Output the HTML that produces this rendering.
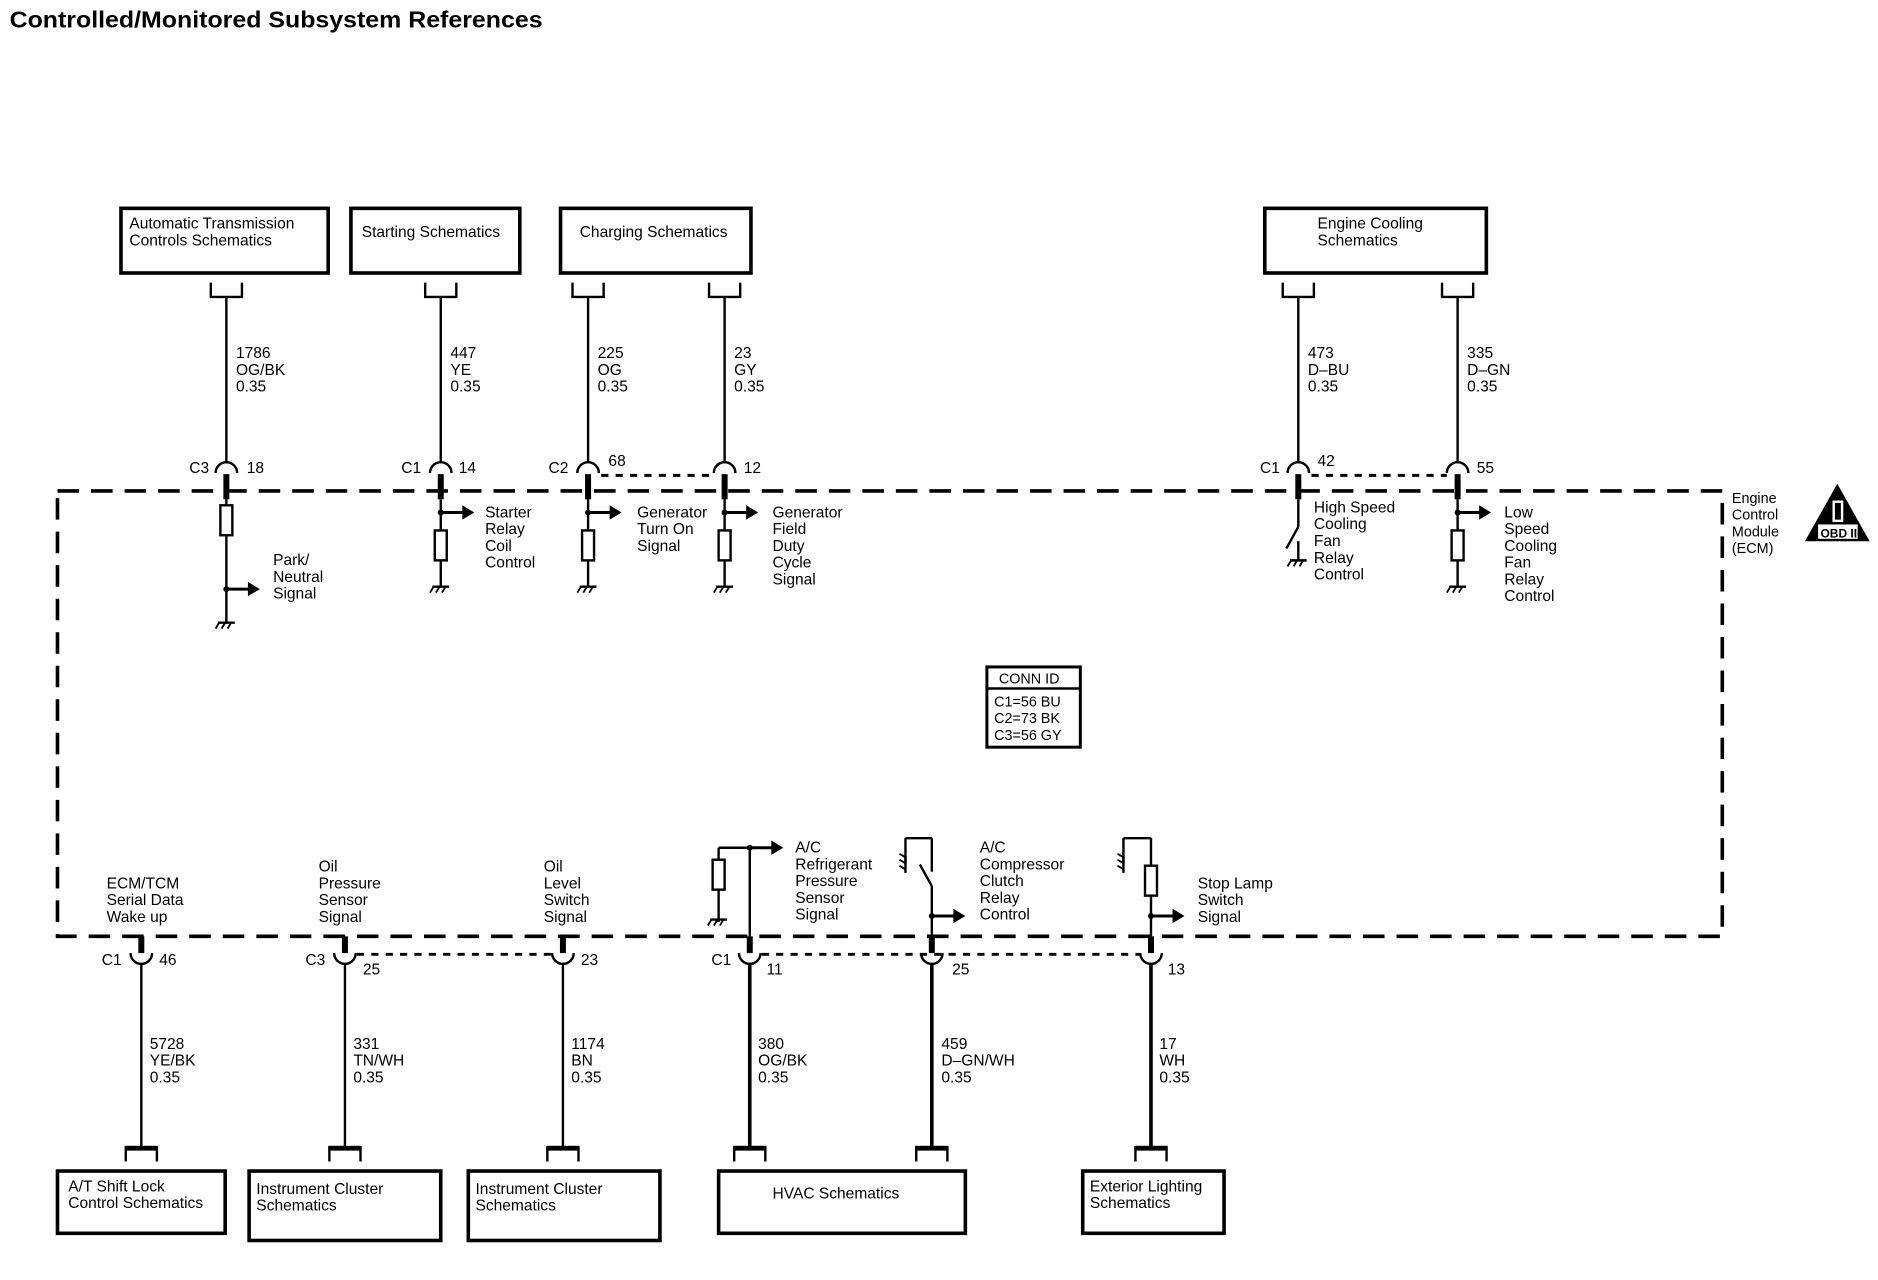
<!DOCTYPE html>
<html><head><meta charset="utf-8"><style>
html,body{margin:0;padding:0;background:#fff;}
svg{display:block}
text{font-family:"Liberation Sans",sans-serif;font-size:13px;fill:#000}
.b{font-weight:bold}
</style></head><body>
<svg width="1878" height="1280" viewBox="0 0 1568 1069" preserveAspectRatio="none" xmlns="http://www.w3.org/2000/svg">
<defs>
<g id="gnd"><line x1="-7" y1="0" x2="7" y2="0" stroke="#000" stroke-width="2"/><line x1="-6" y1="0" x2="-9" y2="5" stroke="#000" stroke-width="1.5"/><line x1="-1" y1="0" x2="-4" y2="5" stroke="#000" stroke-width="1.5"/><line x1="4" y1="0" x2="1" y2="5" stroke="#000" stroke-width="1.5"/></g>
<g id="arr"><line x1="0" y1="0" x2="20" y2="0" stroke="#000" stroke-width="2.5"/><polygon points="18,-6 28,0 18,6" fill="#000"/><circle cx="0" cy="0" r="2.5" fill="#000"/></g>
<g id="res"><rect x="-5" y="0" width="10" height="25" fill="#fff" stroke="#000" stroke-width="2"/></g>
<g id="topc"><path d="M-9,395 A9,9 0 0 1 9,395" fill="none" stroke="#000" stroke-width="2"/><line x1="0" y1="396" x2="0" y2="417" stroke="#000" stroke-width="5"/></g>
<g id="botc"><path d="M-9,796 A9,9 0 0 0 9,796" fill="none" stroke="#000" stroke-width="2"/><line x1="0" y1="782" x2="0" y2="796" stroke="#000" stroke-width="5"/></g>
<g id="ubr"><path d="M-13,236 V248 H13 V236" fill="none" stroke="#000" stroke-width="2"/></g>
<g id="dbr"><path d="M-13,970 V958 H13 V970" fill="none" stroke="#000" stroke-width="2"/><line x1="-13" y1="959" x2="13" y2="959" stroke="#000" stroke-width="4"/></g>
</defs>

<text x="8" y="23" class="b" style="font-size:19px" textLength="445" lengthAdjust="spacingAndGlyphs">Controlled/Monitored Subsystem References</text>

<!-- ECM dashed box -->
<path d="M48,410 H1438 V782 H48 Z" fill="none" stroke="#000" stroke-width="3" stroke-dasharray="18,10"/>
<text x="1446" y="420" style="font-size:12px">Engine</text>
<text x="1446" y="434" style="font-size:12px">Control</text>
<text x="1446" y="448" style="font-size:12px">Module</text>
<text x="1446" y="462" style="font-size:12px">(ECM)</text>
<polygon points="1534,404 1561,452 1507,452" fill="#000"/>
<rect x="1530" y="418" width="9" height="18" fill="#fff"/>
<rect x="1532" y="420" width="5" height="14" fill="#000"/>
<rect x="1518" y="438" width="33" height="12" fill="#fff"/>
<text x="1520" y="449" style="font-size:10px" class="b">OBD II</text>

<!-- Top boxes -->
<g fill="none" stroke="#000" stroke-width="3">
<rect x="101" y="174" width="173" height="54"/>
<rect x="293" y="174" width="141" height="54"/>
<rect x="468" y="174" width="159" height="54"/>
<rect x="1056" y="174" width="185" height="54"/>
</g>
<text x="108" y="191">Automatic Transmission</text>
<text x="108" y="205">Controls Schematics</text>
<text x="302" y="198">Starting Schematics</text>
<text x="484" y="198">Charging Schematics</text>
<text x="1100" y="191">Engine Cooling</text>
<text x="1100" y="205">Schematics</text>

<!-- top wires -->
<g stroke="#000" stroke-width="2">
<line x1="189" y1="248" x2="189" y2="387"/>
<line x1="368" y1="248" x2="368" y2="387"/>
<line x1="491" y1="248" x2="491" y2="387"/>
<line x1="605" y1="248" x2="605" y2="387"/>
<line x1="1084" y1="248" x2="1084" y2="387"/>
<line x1="1217" y1="248" x2="1217" y2="387"/>
</g>
<use href="#ubr" x="189"/><use href="#ubr" x="368"/><use href="#ubr" x="491"/><use href="#ubr" x="605"/><use href="#ubr" x="1084"/><use href="#ubr" x="1217"/>
<use href="#topc" x="189"/><use href="#topc" x="368"/><use href="#topc" x="491"/><use href="#topc" x="605"/><use href="#topc" x="1084"/><use href="#topc" x="1217"/>
<g stroke="#000" stroke-width="2.5" stroke-dasharray="6,6">
<line x1="502" y1="397" x2="596" y2="397"/>
<line x1="1095" y1="397" x2="1208" y2="397"/>
</g>
<text x="197" y="299">1786</text><text x="197" y="313">OG/BK</text><text x="197" y="327">0.35</text>
<text x="376" y="299">447</text><text x="376" y="313">YE</text><text x="376" y="327">0.35</text>
<text x="499" y="299">225</text><text x="499" y="313">OG</text><text x="499" y="327">0.35</text>
<text x="613" y="299">23</text><text x="613" y="313">GY</text><text x="613" y="327">0.35</text>
<text x="1092" y="299">473</text><text x="1092" y="313">D–BU</text><text x="1092" y="327">0.35</text>
<text x="1225" y="299">335</text><text x="1225" y="313">D–GN</text><text x="1225" y="327">0.35</text>
<text x="158" y="395">C3</text><text x="206" y="395">18</text>
<text x="335" y="395">C1</text><text x="383" y="395">14</text>
<text x="458" y="395">C2</text><text x="508" y="389">68</text>
<text x="621" y="395">12</text>
<text x="1052" y="395">C1</text><text x="1100" y="389">42</text>
<text x="1233" y="395">55</text>

<!-- top internals -->
<g stroke="#000" stroke-width="2">
<line x1="189" y1="417" x2="189" y2="520"/>
<line x1="368" y1="417" x2="368" y2="490"/>
<line x1="491" y1="417" x2="491" y2="490"/>
<line x1="605" y1="417" x2="605" y2="490"/>
<line x1="1217" y1="417" x2="1217" y2="490"/>
<line x1="1084" y1="417" x2="1084" y2="440"/>
<line x1="1084" y1="440" x2="1074" y2="458"/>
<line x1="1084" y1="452" x2="1084" y2="468"/>
</g>
<use href="#res" x="189" y="422"/><use href="#arr" x="189" y="492"/><use href="#gnd" x="189" y="520"/>
<use href="#arr" x="368" y="428"/><use href="#res" x="368" y="443"/><use href="#gnd" x="368" y="490"/>
<use href="#arr" x="491" y="428"/><use href="#res" x="491" y="443"/><use href="#gnd" x="491" y="490"/>
<use href="#arr" x="605" y="428"/><use href="#res" x="605" y="443"/><use href="#gnd" x="605" y="490"/>
<use href="#gnd" x="1084" y="468"/>
<use href="#arr" x="1217" y="428"/><use href="#res" x="1217" y="443"/><use href="#gnd" x="1217" y="490"/>
<text x="228" y="472">Park/</text><text x="228" y="486">Neutral</text><text x="228" y="500">Signal</text>
<text x="405" y="432">Starter</text><text x="405" y="446">Relay</text><text x="405" y="460">Coil</text><text x="405" y="474">Control</text>
<text x="532" y="432">Generator</text><text x="532" y="446">Turn On</text><text x="532" y="460">Signal</text>
<text x="645" y="432">Generator</text><text x="645" y="446">Field</text><text x="645" y="460">Duty</text><text x="645" y="474">Cycle</text><text x="645" y="488">Signal</text>
<text x="1097" y="428">High Speed</text><text x="1097" y="442">Cooling</text><text x="1097" y="456">Fan</text><text x="1097" y="470">Relay</text><text x="1097" y="484">Control</text>
<text x="1256" y="432">Low</text><text x="1256" y="446">Speed</text><text x="1256" y="460">Cooling</text><text x="1256" y="474">Fan</text><text x="1256" y="488">Relay</text><text x="1256" y="502">Control</text>

<!-- CONN ID -->
<rect x="824" y="557" width="78" height="67" fill="none" stroke="#000" stroke-width="2.5"/>
<line x1="824" y1="575" x2="902" y2="575" stroke="#000" stroke-width="2"/>
<text x="834" y="571" style="font-size:12px">CONN ID</text>
<text x="830" y="590" style="font-size:12px">C1=56 BU</text>
<text x="830" y="604" style="font-size:12px">C2=73 BK</text>
<text x="830" y="618" style="font-size:12px">C3=56 GY</text>

<!-- bottom internals -->
<g stroke="#000" stroke-width="2">
<line x1="626" y1="708" x2="626" y2="782"/>
<line x1="600" y1="708" x2="626" y2="708"/>
<line x1="600" y1="708" x2="600" y2="770"/>
<line x1="778" y1="740" x2="778" y2="782"/>
<line x1="778" y1="740" x2="768" y2="722"/>
<line x1="778" y1="700" x2="778" y2="728"/>
<line x1="756" y1="700" x2="778" y2="700"/>
<line x1="756" y1="700" x2="756" y2="722"/>
<line x1="961" y1="700" x2="961" y2="782"/>
<line x1="938" y1="700" x2="961" y2="700"/>
<line x1="938" y1="700" x2="938" y2="722"/>
</g>
<use href="#arr" x="626" y="708"/><use href="#res" x="600" y="718"/><use href="#gnd" x="600" y="768"/>
<use href="#arr" x="778" y="765"/>
<g transform="translate(756,722) rotate(90)"><use href="#gnd"/></g>
<use href="#res" x="961" y="723"/><use href="#arr" x="961" y="765"/>
<g transform="translate(938,722) rotate(90)"><use href="#gnd"/></g>
<text x="89" y="742">ECM/TCM</text><text x="89" y="756">Serial Data</text><text x="89" y="770">Wake up</text>
<text x="266" y="728">Oil</text><text x="266" y="742">Pressure</text><text x="266" y="756">Sensor</text><text x="266" y="770">Signal</text>
<text x="454" y="728">Oil</text><text x="454" y="742">Level</text><text x="454" y="756">Switch</text><text x="454" y="770">Signal</text>
<text x="664" y="712">A/C</text><text x="664" y="726">Refrigerant</text><text x="664" y="740">Pressure</text><text x="664" y="754">Sensor</text><text x="664" y="768">Signal</text>
<text x="818" y="712">A/C</text><text x="818" y="726">Compressor</text><text x="818" y="740">Clutch</text><text x="818" y="754">Relay</text><text x="818" y="768">Control</text>
<text x="1000" y="742">Stop Lamp</text><text x="1000" y="756">Switch</text><text x="1000" y="770">Signal</text>

<!-- bottom wires -->
<g stroke="#000" stroke-width="2">
<line x1="118" y1="804" x2="118" y2="958"/>
<line x1="288" y1="804" x2="288" y2="958"/>
<line x1="470" y1="804" x2="470" y2="958"/>
</g>
<g stroke="#000" stroke-width="3">
<line x1="626" y1="804" x2="626" y2="958"/>
<line x1="778" y1="804" x2="778" y2="958"/>
<line x1="961" y1="804" x2="961" y2="958"/>
</g>
<use href="#botc" x="118"/><use href="#botc" x="288"/><use href="#botc" x="470"/><use href="#botc" x="626"/><use href="#botc" x="778"/><use href="#botc" x="961"/>
<g stroke="#000" stroke-width="2.5" stroke-dasharray="6,6">
<line x1="298" y1="797" x2="462" y2="797"/>
<line x1="636" y1="797" x2="952" y2="797"/>
</g>
<text x="85" y="806">C1</text><text x="133" y="806">46</text>
<text x="255" y="806">C3</text><text x="303" y="814">25</text>
<text x="485" y="806">23</text>
<text x="594" y="806">C1</text><text x="640" y="814">11</text>
<text x="795" y="814">25</text>
<text x="975" y="814">13</text>
<text x="125" y="876">5728</text><text x="125" y="890">YE/BK</text><text x="125" y="904">0.35</text>
<text x="295" y="876">331</text><text x="295" y="890">TN/WH</text><text x="295" y="904">0.35</text>
<text x="477" y="876">1174</text><text x="477" y="890">BN</text><text x="477" y="904">0.35</text>
<text x="633" y="876">380</text><text x="633" y="890">OG/BK</text><text x="633" y="904">0.35</text>
<text x="786" y="876">459</text><text x="786" y="890">D–GN/WH</text><text x="786" y="904">0.35</text>
<text x="968" y="876">17</text><text x="968" y="890">WH</text><text x="968" y="904">0.35</text>
<use href="#dbr" x="118"/><use href="#dbr" x="288"/><use href="#dbr" x="470"/><use href="#dbr" x="626"/><use href="#dbr" x="778"/><use href="#dbr" x="961"/>

<g fill="none" stroke="#000" stroke-width="3">
<rect x="48" y="978" width="140" height="52"/>
<rect x="208" y="978" width="160" height="58"/>
<rect x="391" y="978" width="160" height="58"/>
<rect x="600" y="978" width="206" height="52"/>
<rect x="904" y="978" width="118" height="52"/>
</g>
<text x="57" y="995">A/T Shift Lock</text><text x="57" y="1009">Control Schematics</text>
<text x="214" y="997">Instrument Cluster</text><text x="214" y="1011">Schematics</text>
<text x="397" y="997">Instrument Cluster</text><text x="397" y="1011">Schematics</text>
<text x="645" y="1001">HVAC Schematics</text>
<text x="910" y="995">Exterior Lighting</text><text x="910" y="1009">Schematics</text>
</svg>
</body></html>
